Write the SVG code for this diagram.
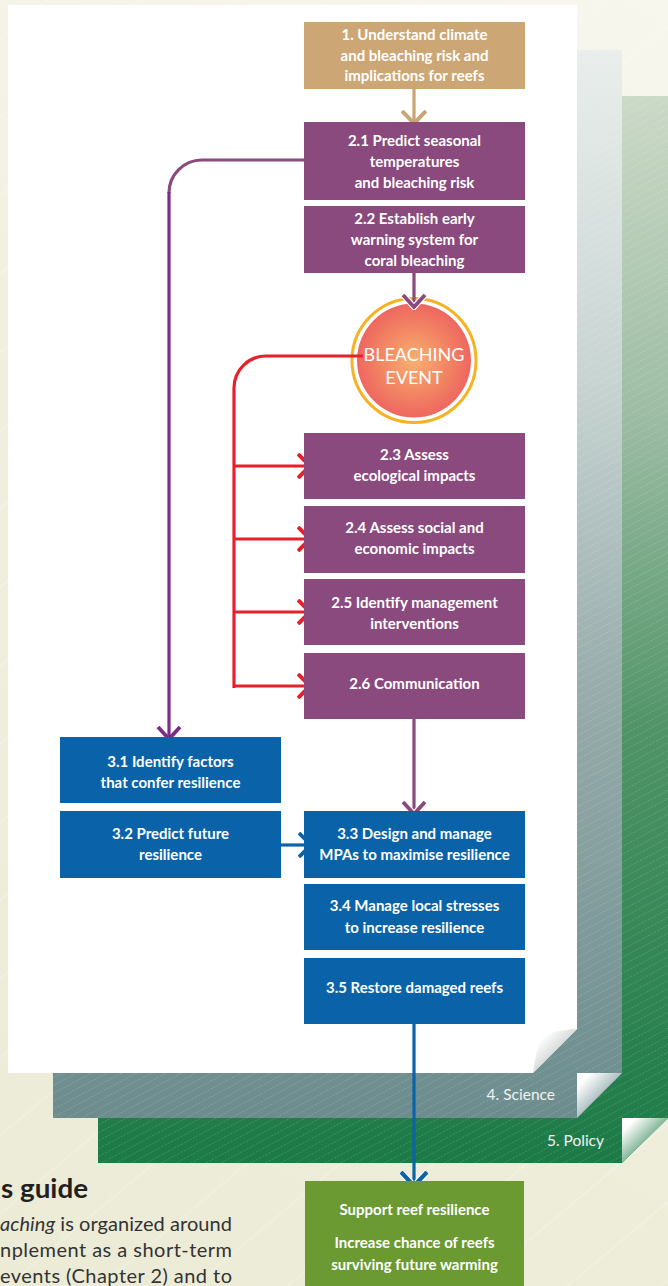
<svg xmlns="http://www.w3.org/2000/svg" width="668" height="1286" viewBox="0 0 668 1286">
<style>
.bt{font-family:Lato,"Open Sans","Liberation Sans",sans-serif;font-weight:700;font-size:15px;fill:#fff;text-anchor:middle}
.pg{font-family:Lato,"Open Sans","Liberation Sans",sans-serif;font-size:15.5px;fill:#f2f2f2;text-anchor:end}
.body{font-family:Lato,"Open Sans","Liberation Sans",sans-serif;font-size:20px;fill:#333}
.ln{fill:none;stroke-width:3.2}
</style>
<defs>
<linearGradient id="bg" x1="668" y1="0" x2="0" y2="1286" gradientUnits="userSpaceOnUse">
<stop offset="0" stop-color="#F8F7EE"/><stop offset="0.4" stop-color="#F1F0E0"/><stop offset="1" stop-color="#ECEBD6"/>
</linearGradient>
<linearGradient id="grayG" x1="0" y1="50" x2="0" y2="1118" gradientUnits="userSpaceOnUse">
<stop offset="0" stop-color="#E9EEEC"/><stop offset="0.3" stop-color="#C9D5D3"/><stop offset="0.6" stop-color="#97ACAB"/><stop offset="1" stop-color="#6C8C8D"/>
</linearGradient>
<linearGradient id="greenG" x1="0" y1="96" x2="0" y2="1163" gradientUnits="userSpaceOnUse">
<stop offset="0" stop-color="#CBD9C7"/><stop offset="0.3" stop-color="#9DBCA4"/><stop offset="0.6" stop-color="#4F9366"/><stop offset="1" stop-color="#1B7A46"/>
</linearGradient>
<linearGradient id="foldW" x1="0" y1="0" x2="1" y2="1">
<stop offset="0.2" stop-color="#ffffff"/><stop offset="1" stop-color="#9AA2A4"/>
</linearGradient>
<linearGradient id="foldG" x1="0" y1="0" x2="1" y2="1">
<stop offset="0.15" stop-color="#ffffff"/><stop offset="0.8" stop-color="#6E8E8F"/>
</linearGradient>
<linearGradient id="foldN" x1="0" y1="0" x2="1" y2="1">
<stop offset="0.15" stop-color="#ffffff"/><stop offset="0.8" stop-color="#1F7C48"/>
</linearGradient>
<radialGradient id="circ" cx="0.5" cy="0.5" r="0.5">
<stop offset="0" stop-color="#F8B070"/><stop offset="0.6" stop-color="#F28463"/><stop offset="1" stop-color="#EE6760"/>
</radialGradient>
<pattern id="hatch" width="7" height="7" patternUnits="userSpaceOnUse" patternTransform="rotate(-28)">
<line x1="0" y1="3.5" x2="7" y2="3.5" stroke="#ffffff" stroke-opacity="0.2" stroke-width="0.8" stroke-dasharray="2 1.5"/>
</pattern>
<pattern id="bgl" width="60" height="60" patternUnits="userSpaceOnUse" patternTransform="rotate(-40)">
<line x1="0" y1="30" x2="60" y2="30" stroke="#ffffff" stroke-opacity="0.35" stroke-width="1"/>
</pattern>
<marker id="mTan" viewBox="0 0 26 16" refX="13" refY="14" markerWidth="26" markerHeight="16" markerUnits="userSpaceOnUse" orient="0">
<path d="M1 1 L13 13.5 L25 1" fill="none" stroke="#C9A574" stroke-width="4"/>
</marker>
<marker id="mPur" viewBox="0 0 26 16" refX="13" refY="14" markerWidth="26" markerHeight="16" markerUnits="userSpaceOnUse" orient="0">
<path d="M2 1 L13 13 L24 1" fill="none" stroke="#fff" stroke-width="6"/>
<path d="M2 1 L13 13 L24 1" fill="none" stroke="#8A4A7D" stroke-width="3.8"/>
</marker>
<marker id="mVio" viewBox="0 0 26 16" refX="13" refY="14" markerWidth="26" markerHeight="16" markerUnits="userSpaceOnUse" orient="0">
<path d="M2 1 L13 13 L24 1" fill="none" stroke="#7B2C8B" stroke-width="3.8"/>
</marker>
<marker id="mRed" viewBox="0 0 16 26" refX="14" refY="13" markerWidth="16" markerHeight="26" markerUnits="userSpaceOnUse" orient="0">
<path d="M1 1 L13 13 L1 25" fill="none" stroke="#fff" stroke-width="6"/>
<path d="M1 1 L13 13 L1 25" fill="none" stroke="#E8202A" stroke-width="4"/>
</marker>
<marker id="mBlueR" viewBox="0 0 16 26" refX="14" refY="13" markerWidth="16" markerHeight="26" markerUnits="userSpaceOnUse" orient="0">
<path d="M1 1 L13 13 L1 25" fill="none" stroke="#fff" stroke-width="6"/>
<path d="M1 1 L13 13 L1 25" fill="none" stroke="#0B63A8" stroke-width="3.8"/>
</marker>
<marker id="mBlueD" viewBox="0 0 28 18" refX="14" refY="16" markerWidth="28" markerHeight="18" markerUnits="userSpaceOnUse" orient="0">
<path d="M1 1 L14 15 L27 1" fill="none" stroke="#fff" stroke-width="6.5"/>
<path d="M1 1 L14 15 L27 1" fill="none" stroke="#0B63A8" stroke-width="4.2"/>
</marker>
</defs>

<g id="background">
<rect x="0" y="0" width="668" height="1286" fill="url(#bg)"/>
<rect x="0" y="0" width="668" height="1286" fill="url(#bgl)"/>
</g>

<g id="page-policy">
<path d="M98 96 H668 V1118 L622 1163 H98 Z" fill="url(#greenG)"/>
<path d="M98 96 H668 V1118 L622 1163 H98 Z" fill="url(#hatch)"/>
<path d="M668 1118 L622 1163 L622 1118 Z" fill="url(#foldN)"/>
<text class="pg" x="604" y="1146">5. Policy</text>
</g>

<g id="page-science">
<path d="M53 50 H622 V1073 L577 1118 H53 Z" fill="url(#grayG)"/>
<path d="M53 50 H622 V1073 L577 1118 H53 Z" fill="url(#hatch)"/>
<path d="M622 1073 L577 1118 L577 1073 Z" fill="url(#foldG)"/>
<text class="pg" x="555" y="1100">4. Science</text>
</g>

<g id="page-main">
<path d="M8 5 H577 V1029 L533 1073 H8 Z" fill="#ffffff"/>
<path d="M577 1029 L533 1073 Q536 1048 542 1038 Q552 1030 577 1029 Z" fill="url(#foldW)"/>
</g>

<g id="bleaching-event">
<circle cx="414" cy="360.5" r="62" fill="#fff" stroke="#F5B324" stroke-width="3"/>
<circle cx="414" cy="360.5" r="57" fill="url(#circ)"/>
</g>

<g id="connectors">
<path class="ln" d="M414 89 V124" stroke="#C9A574" stroke-width="3.8" marker-end="url(#mTan)"/>
<path class="ln" d="M304 160 H202 A33 33 0 0 0 169 193" stroke="#8A4A7D"/>
<path class="ln" d="M169 192 V740" stroke="#7B2C8B" marker-end="url(#mVio)"/>
<path class="ln" d="M414 273 V308" stroke="#8A4A7D" marker-end="url(#mPur)"/>
<path class="ln" d="M414 719 V815" stroke="#8A4A7D" marker-end="url(#mPur)"/>
<path class="ln" d="M281 845 H312" stroke="#0B63A8" marker-end="url(#mBlueR)"/>
<path class="ln" d="M414 1024 V1187" stroke="#0B63A8" stroke-width="3.6" marker-end="url(#mBlueD)"/>
<path class="ln" d="M363 356 H266 A32 32 0 0 0 234 388 V688" stroke="#E8202A" stroke-width="3.4"/>
<path class="ln" d="M234 466 H311" stroke="#E8202A" stroke-width="3.4" marker-end="url(#mRed)"/>
<path class="ln" d="M234 539 H311" stroke="#E8202A" stroke-width="3.4" marker-end="url(#mRed)"/>
<path class="ln" d="M234 612 H311" stroke="#E8202A" stroke-width="3.4" marker-end="url(#mRed)"/>
<path class="ln" d="M234 686 H311" stroke="#E8202A" stroke-width="3.4" marker-end="url(#mRed)"/>
</g>

<g id="bleaching-label">
<text x="414" y="361" font-family="Lato,'Open Sans','Liberation Sans',sans-serif" font-size="18" fill="#fff" text-anchor="middle">BLEACHING</text>
<text x="414" y="384" font-family="Lato,'Open Sans','Liberation Sans',sans-serif" font-size="18" fill="#fff" text-anchor="middle">EVENT</text>
</g>

<g id="n1"><rect x="304" y="22" width="221" height="67" fill="#CCA674"/>
<text class="bt" x="414.5" y="40">1. Understand climate</text>
<text class="bt" x="414.5" y="61">and bleaching risk and</text>
<text class="bt" x="414.5" y="81">implications for reefs</text></g>

<g id="n2-1"><rect x="304" y="122" width="221" height="78" fill="#8A4A7D"/>
<text class="bt" x="414.5" y="146">2.1 Predict seasonal</text>
<text class="bt" x="414.5" y="167">temperatures</text>
<text class="bt" x="414.5" y="188">and bleaching risk</text></g>

<g id="n2-2"><rect x="304" y="206" width="221" height="67" fill="#8A4A7D"/>
<text class="bt" x="414.5" y="224">2.2 Establish early</text>
<text class="bt" x="414.5" y="245">warning system for</text>
<text class="bt" x="414.5" y="266">coral bleaching</text></g>

<g id="n2-3"><rect x="304" y="433" width="221" height="66" fill="#8A4A7D"/>
<text class="bt" x="414.5" y="460">2.3 Assess</text>
<text class="bt" x="414.5" y="481">ecological impacts</text></g>

<g id="n2-4"><rect x="304" y="506" width="221" height="67" fill="#8A4A7D"/>
<text class="bt" x="414.5" y="533">2.4 Assess social and</text>
<text class="bt" x="414.5" y="554">economic impacts</text></g>

<g id="n2-5"><rect x="304" y="579" width="221" height="66" fill="#8A4A7D"/>
<text class="bt" x="414.5" y="608">2.5 Identify management</text>
<text class="bt" x="414.5" y="629">interventions</text></g>

<g id="n2-6"><rect x="304" y="653" width="221" height="66" fill="#8A4A7D"/>
<text class="bt" x="414.5" y="689">2.6 Communication</text></g>

<g id="n3-1"><rect x="60" y="737" width="221" height="66" fill="#0A63A8"/>
<text class="bt" x="170.5" y="767">3.1 Identify factors</text>
<text class="bt" x="170.5" y="788">that confer resilience</text></g>

<g id="n3-2"><rect x="60" y="811" width="221" height="67" fill="#0A63A8"/>
<text class="bt" x="170.5" y="839">3.2 Predict future</text>
<text class="bt" x="170.5" y="860">resilience</text></g>

<g id="n3-3"><rect x="304" y="811" width="221" height="67" fill="#0A63A8"/>
<text class="bt" x="414.5" y="839">3.3 Design and manage</text>
<text class="bt" x="414.5" y="860">MPAs to maximise resilience</text></g>

<g id="n3-4"><rect x="304" y="884" width="221" height="66" fill="#0A63A8"/>
<text class="bt" x="414.5" y="911">3.4 Manage local stresses</text>
<text class="bt" x="414.5" y="933">to increase resilience</text></g>

<g id="n3-5"><rect x="304" y="958" width="221" height="66" fill="#0A63A8"/>
<text class="bt" x="414.5" y="993">3.5 Restore damaged reefs</text></g>

<g id="outcome"><rect x="305" y="1181" width="219" height="110" fill="#6A9A31"/>
<text class="bt" x="414.5" y="1215">Support reef resilience</text>
<text class="bt" x="414.5" y="1248">Increase chance of reefs</text>
<text class="bt" x="414.5" y="1270">surviving future warming</text></g>

<g id="guide-text">
<text x="1" y="1198" font-family="Lato,'Open Sans','Liberation Sans',sans-serif" font-weight="700" font-size="26" fill="#231F20" textLength="87" lengthAdjust="spacingAndGlyphs">s guide</text>
<text class="body" x="0" y="1231" textLength="232" lengthAdjust="spacing"><tspan font-style="italic">aching</tspan> is organized around</text>
<text class="body" x="0" y="1257" textLength="232" lengthAdjust="spacing">nplement as a short-term</text>
<text class="body" x="0" y="1283" textLength="232" lengthAdjust="spacing">events (Chapter 2) and to</text>
</g>
</svg>
